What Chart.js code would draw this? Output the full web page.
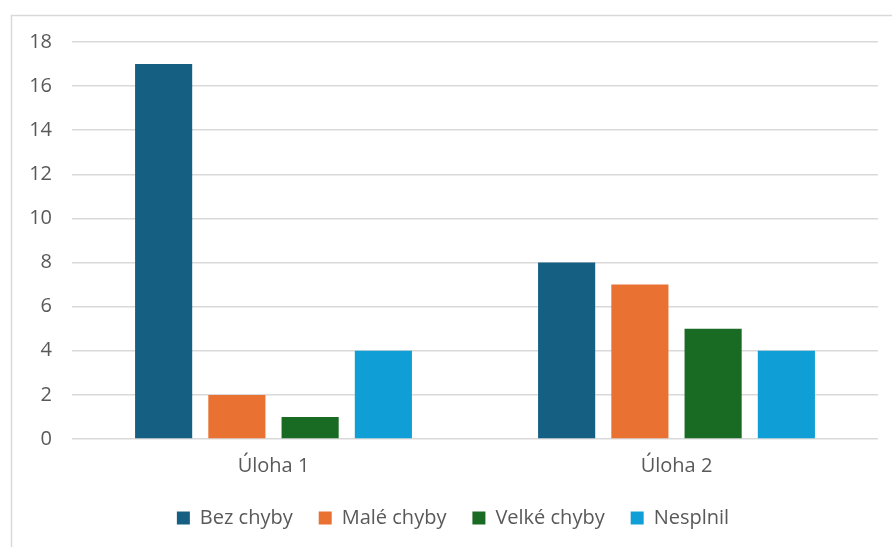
<!DOCTYPE html>
<html>
<head>
<meta charset="utf-8">
<script src="https://cdn.jsdelivr.net/npm/chart.js@4"></script>
<style>
  html, body { margin: 0; padding: 0; background: #fff; }
  #wrap { width: 892px; height: 547px; position: relative; }
</style>
</head>
<body>
<div id="wrap"><canvas id="chart"></canvas></div>
<script>
const categories = ['Úloha 1', 'Úloha 2'];
const seriesNames = ['Bez chyby', 'Malé chyby', 'Velké chyby', 'Nesplnil'];
const bezChyby = [17, 8];
const maleChyby = [2, 7];
const velkeChyby = [1, 5];
const nesplnil = [4, 4];
const colors = ['#156082', '#E97132', '#196B24', '#0F9ED5'];

const seriesValues = [bezChyby, maleChyby, velkeChyby, nesplnil];

// light gray frame around the chart, like the office chart border
const framePlugin = {
  id: 'frame',
  beforeDraw(chart) {
    const ctx = chart.ctx;
    ctx.save();
    ctx.fillStyle = '#fff';
    ctx.fillRect(0, 0, chart.width, chart.height);
    ctx.strokeStyle = '#d9d9d9';
    ctx.lineWidth = 1.5;
    ctx.strokeRect(11.5, 15.5, 1000, 1000);
    ctx.restore();
  }
};

Chart.defaults.font.family = "'Open Sans', 'Noto Sans', sans-serif";
Chart.defaults.font.size = 20;
Chart.defaults.color = '#595959';

new Chart(document.getElementById('chart'), {
  type: 'bar',
  data: {
    labels: categories,
    datasets: seriesNames.map((name, i) => ({
      label: name,
      data: seriesValues[i],
      backgroundColor: colors[i],
      categoryPercentage: 0.727,
      barPercentage: 0.78
    }))
  },
  options: {
    responsive: true,
    maintainAspectRatio: false,
    animation: false,
    // some left padding so the centred legend sits a bit more to the right
    layout: { padding: { top: 42, right: 14, left: 28, bottom: 9 } },
    plugins: {
      tooltip: { enabled: false },
      legend: {
        position: 'bottom',
        labels: { boxWidth: 13, boxHeight: 13, padding: 26, font: { size: 20 } }
      }
    },
    scales: {
      x: {
        grid: { display: false },
        border: { display: false },
        ticks: { padding: 7 },
        afterFit(scale) { scale.height = 43; }
      },
      y: {
        min: 0, max: 18,
        ticks: { stepSize: 2, padding: 20 },
        grid: { color: '#d9d9d9', lineWidth: 1.5, drawTicks: false },
        border: { display: false },
        afterFit(scale) { scale.width = 44; }
      }
    }
  },
  plugins: [framePlugin]
});
</script>
</body>
</html>
